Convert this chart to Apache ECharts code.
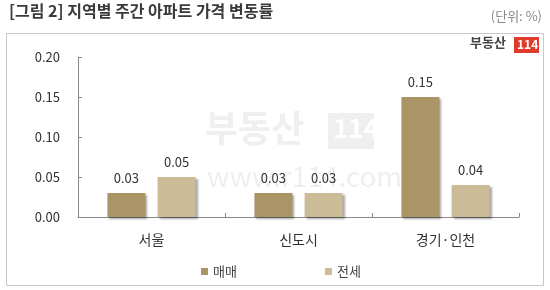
<!DOCTYPE html>
<html><head><meta charset="utf-8">
<script src="https://cdn.jsdelivr.net/npm/echarts@6/dist/echarts.min.js"></script>
<style>html,body{margin:0;padding:0;background:#fff}#c{width:550px;height:290px}</style>
</head><body><div id="c"></div>
<script>
const categories = ['서울', '신도시', '경기·인천'];
const seriesNames = ['매매', '전세'];
const sale = [0.03, 0.03, 0.15];
const jeonse = [0.05, 0.03, 0.04];
const yTicks = [0, 0.05, 0.10, 0.15, 0.20];

const FONT = '"Noto Sans CJK KR", "Noto Sans", sans-serif';
const chart = echarts.init(document.getElementById('c'), null, {renderer: 'canvas'});
const labelCfg = {show: true, position: 'top', distance: 8, color: '#333', fontSize: 13, fontFamily: FONT,
  formatter: p => p.value.toFixed(2)};
const shadow = {shadowColor: 'rgba(0,0,0,0.35)', shadowOffsetX: 2, shadowOffsetY: 2, shadowBlur: 2};
chart.setOption({
  animation: false,
  textStyle: {fontFamily: FONT},
  graphic: [
    {type: 'text', left: 9, top: 3, z: 10, style: {text: '[그림 2] 지역별 주간 아파트 가격 변동률', fill: '#3a3a3a', font: 'bold 16px ' + FONT}},
    {type: 'text', right: 8, top: 10, z: 10, style: {text: '(단위: %)', fill: '#888', font: '13px ' + FONT}},
    {type: 'rect', shape: {x: 6.5, y: 33.5, width: 537, height: 252}, style: {fill: 'none', stroke: '#c8c8c8', lineWidth: 1}, z: 0},
    {type: 'text', left: 470, top: 36, z: 10, style: {text: '부동산', fill: '#444', font: 'bold 13px ' + FONT}},
    {type: 'rect', shape: {x: 514, y: 37, width: 25, height: 16}, style: {fill: '#e03a2a'}, z: 10},
    {type: 'text', left: 517, top: 38, z: 11, style: {text: '114', fill: '#fff', font: 'bold 12px ' + FONT}},
    // watermark
    {type: 'text', left: 205, top: 110, z: -1, style: {text: '부동산', fill: '#efefef', font: 'bold 36px ' + FONT}},
    {type: 'rect', shape: {x: 328, y: 113, width: 46, height: 36}, style: {fill: '#efefef'}, z: -1},
    {type: 'text', left: 333, top: 115, z: -1, style: {text: '114', fill: '#fff', font: 'bold 26px ' + FONT}},
    {type: 'text', left: 207, top: 162, z: -1, style: {text: 'www.r114.com', fill: '#efefef', font: '28px ' + FONT}}
  ],
  grid: {left: 78, right: 31, top: 57, bottom: 73},
  legend: {
    left: 196, top: 260, itemWidth: 7, itemHeight: 7, itemGap: 88, icon: 'rect',
    textStyle: {color: '#444', fontSize: 13, fontFamily: FONT}, data: seriesNames
  },
  xAxis: {
    type: 'category', data: categories,
    axisLine: {lineStyle: {color: '#888'}},
    axisTick: {show: true, inside: true, length: 4, lineStyle: {color: '#888'}},
    axisLabel: {color: '#333', fontSize: 14, margin: 16, fontFamily: FONT}
  },
  yAxis: {
    type: 'value', min: 0, max: 0.2, interval: 0.05,
    axisLine: {show: true, lineStyle: {color: '#888'}},
    axisTick: {show: true, inside: true, length: 4, lineStyle: {color: '#888'}},
    splitLine: {show: false},
    axisLabel: {color: '#333', fontSize: 13, margin: 18, fontFamily: FONT,
      formatter: v => { const t = yTicks.find(x => Math.abs(x - v) < 1e-9); return (t === undefined ? v : t).toFixed(2); }}
  },
  series: [
    {name: seriesNames[0], type: 'bar', data: sale, barWidth: 38, barGap: '32%',
      itemStyle: Object.assign({color: '#ab9566'}, shadow), label: labelCfg},
    {name: seriesNames[1], type: 'bar', data: jeonse, barWidth: 38,
      itemStyle: Object.assign({color: '#cbbb97'}, shadow), label: labelCfg}
  ]
});
</script></body></html>
